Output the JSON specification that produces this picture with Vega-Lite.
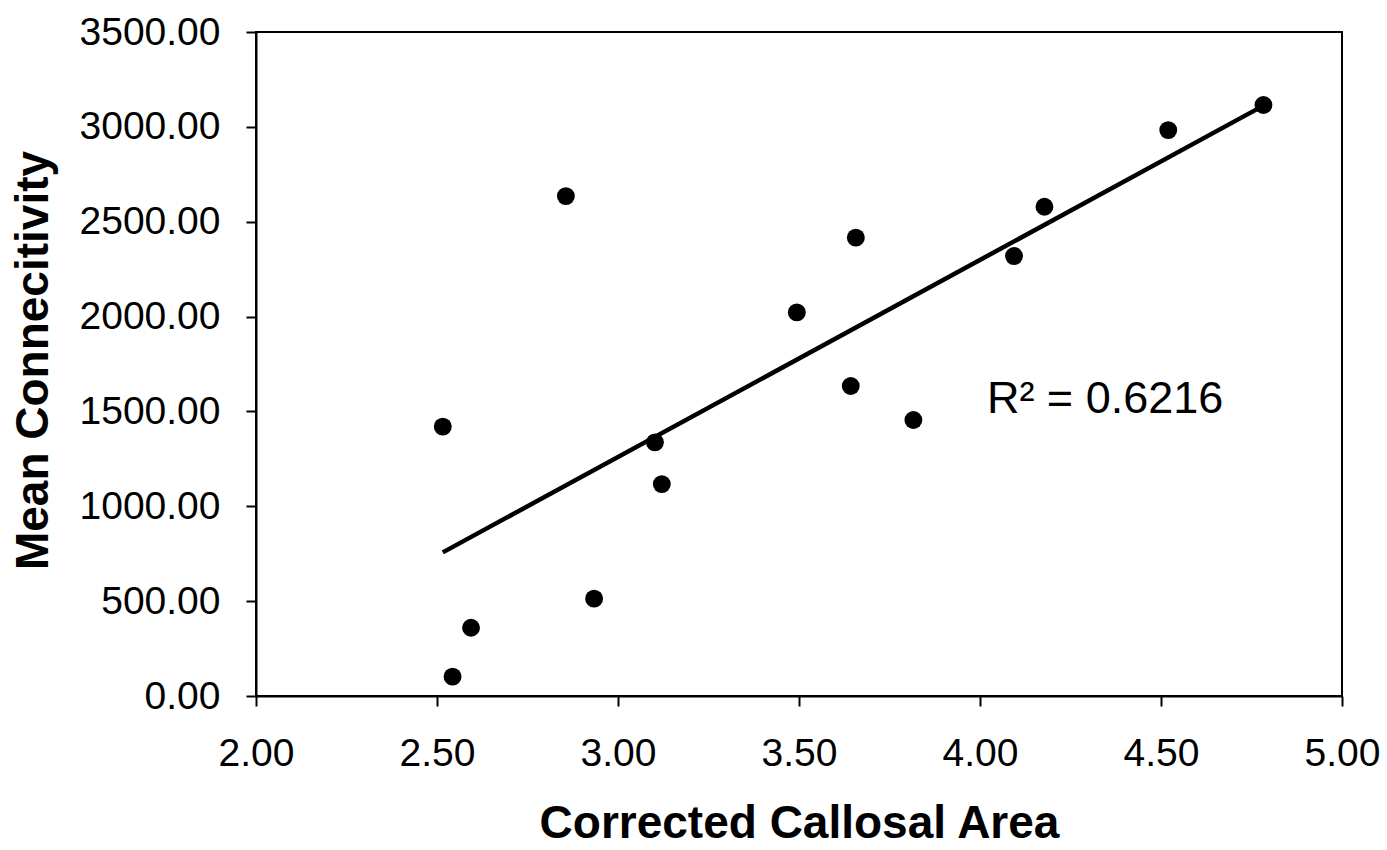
{
  "$schema": "https://vega.github.io/schema/vega-lite/v6.json",
  "width": 1086,
  "height": 664,
  "autosize": {"type": "none"},
  "padding": {"left": 256, "top": 32, "right": 45, "bottom": 154},
  "background": "white",
  "config": {
    "font": "Liberation Sans",
    "view": {"stroke": "black", "strokeWidth": 2},
    "axis": {
      "grid": false,
      "domainColor": "black",
      "domainWidth": 2,
      "tickColor": "black",
      "tickWidth": 2,
      "tickSize": 10,
      "labelColor": "black",
      "labelFont": "Liberation Sans",
      "labelFontSize": 39,
      "labelFontWeight": "normal",
      "titleColor": "black",
      "titleFont": "Liberation Sans",
      "titleFontSize": 46,
      "titleFontWeight": "bold"
    }
  },
  "datasets": {
    "points": [
      {"area": 2.516, "conn": 1420},
      {"area": 2.543, "conn": 102},
      {"area": 2.594, "conn": 360},
      {"area": 2.856, "conn": 2635},
      {"area": 2.934, "conn": 513},
      {"area": 3.102, "conn": 1337},
      {"area": 3.121, "conn": 1117},
      {"area": 3.494, "conn": 2022},
      {"area": 3.643, "conn": 1634},
      {"area": 3.657, "conn": 2416},
      {"area": 3.816, "conn": 1455},
      {"area": 4.094, "conn": 2319},
      {"area": 4.178, "conn": 2579},
      {"area": 4.520, "conn": 2983},
      {"area": 4.783, "conn": 3115}
    ],
    "trend": [
      {"area": 2.516, "conn": 757},
      {"area": 4.783, "conn": 3112}
    ],
    "label": [
      {"area": 4.019, "conn": 1492, "text": "R² = 0.6216"}
    ]
  },
  "layer": [
    {
      "data": {"name": "trend"},
      "mark": {"type": "line", "color": "black", "strokeWidth": 4.5},
      "encoding": {
        "x": {
          "field": "area",
          "type": "quantitative",
          "scale": {"domain": [2, 5], "nice": false, "zero": false},
          "axis": {
            "title": "Corrected Callosal Area",
            "values": [2, 2.5, 3, 3.5, 4, 4.5, 5],
            "format": ".2f",
            "labelPadding": 28,
            "labelFlush": false,
            "titleY": 141,
            "titleBaseline": "alphabetic"
          }
        },
        "y": {
          "field": "conn",
          "type": "quantitative",
          "scale": {"domain": [0, 3500], "nice": false},
          "axis": {
            "title": "Mean Connecitivity",
            "values": [0, 500, 1000, 1500, 2000, 2500, 3000, 3500],
            "format": ".2f",
            "labelPadding": 26,
            "labelFlush": false,
            "titleX": -223,
            "titleY": 328,
            "titleBaseline": "middle",
            "titleAngle": -90
          }
        }
      }
    },
    {
      "data": {"name": "points"},
      "mark": {"type": "point", "filled": true, "shape": "circle", "color": "black", "opacity": 1, "size": 320},
      "encoding": {
        "x": {"field": "area", "type": "quantitative"},
        "y": {"field": "conn", "type": "quantitative"}
      }
    },
    {
      "data": {"name": "label"},
      "mark": {"type": "text", "align": "left", "baseline": "alphabetic", "fontSize": 45, "font": "Liberation Sans", "color": "black"},
      "encoding": {
        "x": {"field": "area", "type": "quantitative"},
        "y": {"field": "conn", "type": "quantitative"},
        "text": {"field": "text"}
      }
    }
  ]
}
